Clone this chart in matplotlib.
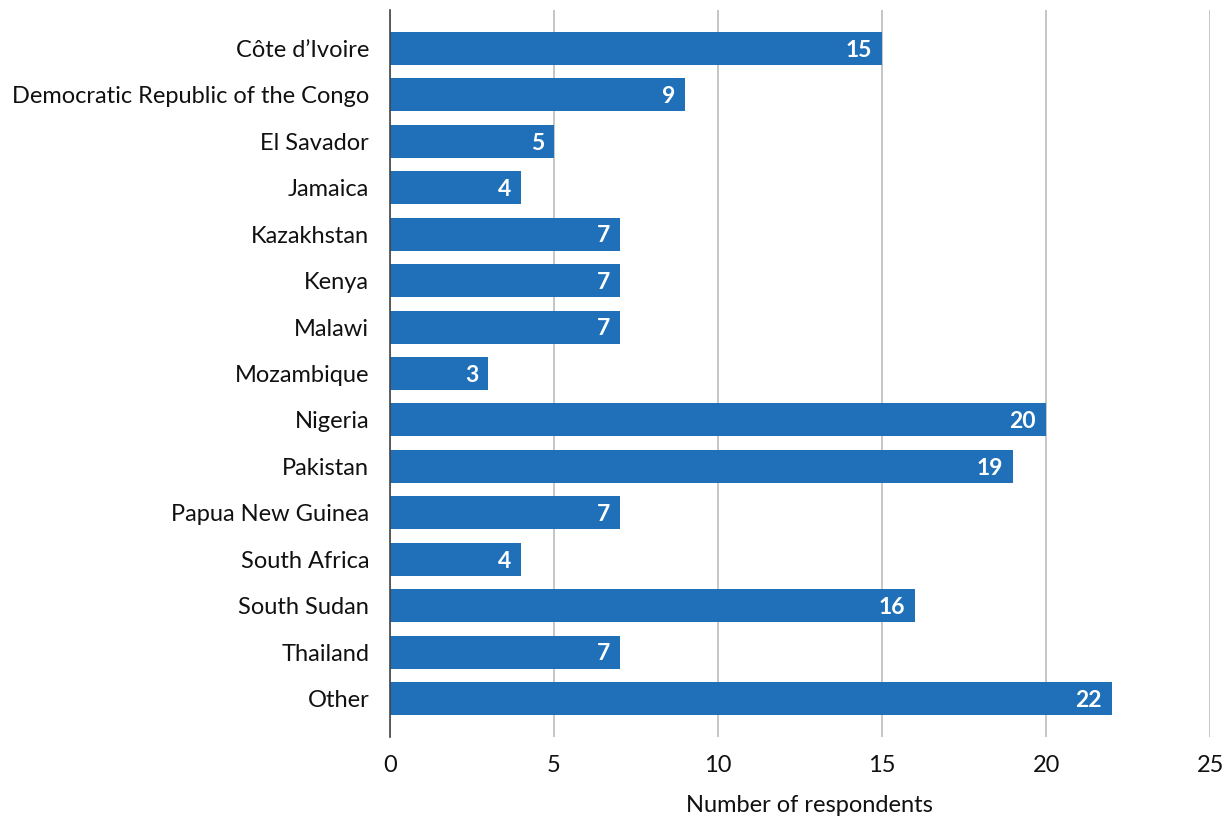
import matplotlib.pyplot as plt

countries = ["Côte d’Ivoire", "Democratic Republic of the Congo", "El Savador",
             "Jamaica", "Kazakhstan", "Kenya", "Malawi", "Mozambique", "Nigeria",
             "Pakistan", "Papua New Guinea", "South Africa", "South Sudan",
             "Thailand", "Other"]
respondents = [15, 9, 5, 4, 7, 7, 7, 3, 20, 19, 7, 4, 16, 7, 22]

plt.rcParams['font.family'] = ['Lato', 'DejaVu Sans']

fig = plt.figure(figsize=(12.32, 8.19), dpi=100)
ax = fig.add_axes([0.3166, 0.100, 0.6656, 0.888])

ypos = list(range(len(countries)))
ax.barh(ypos, respondents, height=0.71, color='#1f70b8', zorder=3)

# value labels inside the bar ends
for i, v in enumerate(respondents):
    ax.text(v - 0.3, i + 0.04, str(v), ha='right', va='center',
            color='white', fontsize=16.5, fontweight='bold', zorder=4)

ax.set_xlim(0, 25)
ax.set_ylim(14.83, -0.83)
ax.set_xticks([0, 5, 10, 15, 20, 25])
ax.set_yticks(ypos)
ax.set_yticklabels(countries)
ax.tick_params(axis='both', length=0, labelsize=17, colors='#111111')
ax.tick_params(axis='y', pad=15)
ax.tick_params(axis='x', pad=13)

ax.grid(axis='x', color='#bbbbbb', linewidth=1.2, zorder=0)
for s in ['top', 'right', 'bottom']:
    ax.spines[s].set_visible(False)
ax.spines['left'].set_color('#444444')
ax.spines['left'].set_linewidth(1.2)
ax.spines['left'].set_zorder(5)

ax.set_xlabel('Number of respondents', fontsize=17, color='#111111')
ax.xaxis.set_label_coords(0.512, -0.08)

fig.savefig('out.png', dpi=100)
